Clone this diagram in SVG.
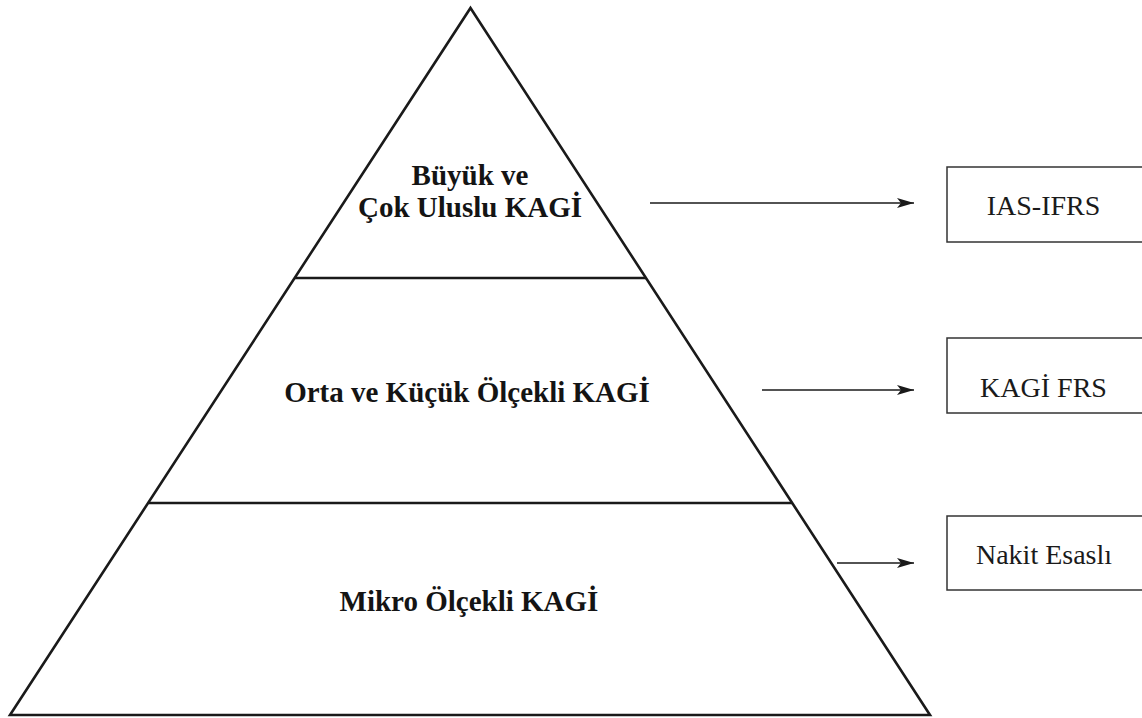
<svg xmlns="http://www.w3.org/2000/svg" width="1142" height="718" viewBox="0 0 1142 718">
<style>
.tri{fill:none;stroke:#1a1a1a;stroke-width:2.6;stroke-linejoin:miter}
.sep{stroke:#1a1a1a;stroke-width:2.6}
.box{fill:#fff;stroke:#333;stroke-width:1.5}
.lvl{font-family:"Liberation Serif","Times New Roman",serif;font-weight:bold;font-size:29px;fill:#141414;text-anchor:middle}
.std{font-family:"Liberation Serif","Times New Roman",serif;font-size:28px;fill:#1a1a1a;text-anchor:middle}
.arr{stroke:#1a1a1a;stroke-width:1.3;fill:none;marker-end:url(#ah)}
</style>
<defs>
<marker id="ah" markerUnits="userSpaceOnUse" markerWidth="18" markerHeight="10" refX="17" refY="5" orient="auto">
<path d="M0,0 L17,5 L0,10 L4,5 Z" fill="#1a1a1a"/>
</marker>
</defs>
<rect width="1142" height="718" fill="#fff"/>
<g id="pyramid">
<polygon class="tri" points="470.5,8 930,715 10,715"/>
<line class="sep" x1="295" y1="278" x2="646" y2="278"/>
<line class="sep" x1="148.5" y1="503" x2="792" y2="503"/>
</g>
<g id="level-top">
<text class="lvl" x="470" y="185">Büyük ve</text>
<text class="lvl" x="470" y="217">Çok Uluslu KAGİ</text>
</g>
<g id="level-mid">
<text class="lvl" x="467" y="402">Orta ve Küçük Ölçekli KAGİ</text>
</g>
<g id="level-bottom">
<text class="lvl" x="469" y="611">Mikro Ölçekli KAGİ</text>
</g>
<g id="box-ias">
<rect class="box" x="947" y="167" width="200" height="75"/>
<text class="std" x="1043.5" y="215">IAS-IFRS</text>
</g>
<g id="box-kagi">
<rect class="box" x="947" y="338" width="200" height="75"/>
<text class="std" x="1043.5" y="397">KAGİ FRS</text>
</g>
<g id="box-nakit">
<rect class="box" x="947" y="516" width="200" height="74"/>
<text class="std" x="1044" y="564">Nakit Esaslı</text>
</g>
<g id="connectors">
<line class="arr" x1="650" y1="203" x2="914" y2="203"/>
<line class="arr" x1="762" y1="390" x2="914" y2="390"/>
<line class="arr" x1="837" y1="563" x2="914" y2="563"/>
</g>
</svg>
